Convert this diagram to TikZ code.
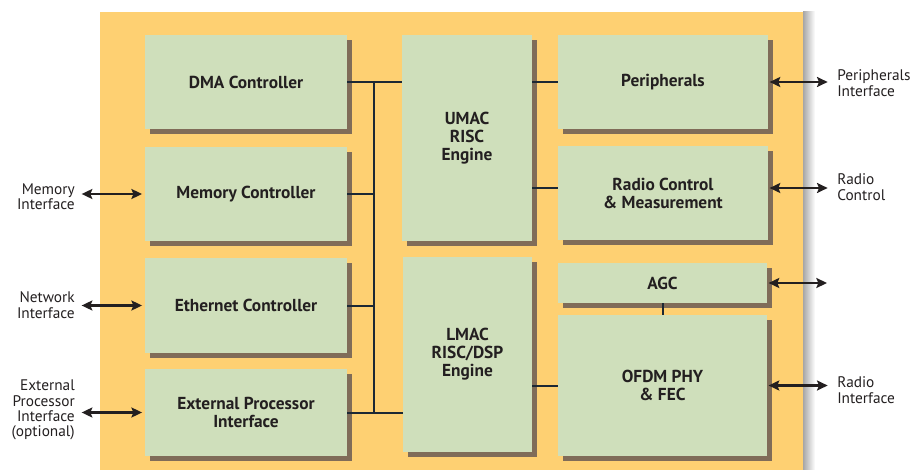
\documentclass[tikz,border=0pt]{standalone}
\usepackage{fontspec}
\setmainfont{PT Sans}
\usetikzlibrary{arrows.meta, positioning, shadows}
\definecolor{bgorange}{RGB}{254,208,114}
\definecolor{boxgreen}{RGB}{207,223,187}
\definecolor{boxshadow}{RGB}{128,108,88}
\definecolor{wirenavy}{RGB}{28,40,52}
\definecolor{txtdark}{RGB}{35,31,32}
\tikzset{
  unit/.style={rectangle, fill=boxgreen, align=center, inner sep=0pt,
    font=\fontsize{13}{13.5}\selectfont\bfseries, text=txtdark,
    general shadow={fill=boxshadow, shadow xshift=3.75pt, shadow yshift=-3.75pt}},
  boxsize/.style 2 args={minimum width=#1*0.75pt, minimum height=#2*0.75pt},
  portlabel/.style={font=\fontsize{11.5}{11.5}\selectfont, text=txtdark, inner sep=0pt},
  wire/.style={line width=1.5pt, draw=wirenavy},
  biarrow/.style={{Stealth[length=8pt,width=7.5pt,inset=1.5pt]}-{Stealth[length=8pt,width=7.5pt,inset=1.5pt]},
    line width=1.6pt, draw=txtdark}
}

\begin{document}
\begin{tikzpicture}[x=0.75pt, y=-0.75pt]
  \useasboundingbox (0,0) rectangle (912,470);

  % Chip background
  \fill[bgorange] (100,12) rectangle (803,470);
  \shade[left color=black!35, right color=white] (803,12) rectangle (815,470);

  % Left column
  \node[unit, boxsize={202}{94}] (dma) at (246,82) {DMA Controller};
  \node[unit, boxsize={202}{94}] (mem) at (246,194) {Memory Controller};
  \node[unit, boxsize={202}{95}] (eth) at (246,305.5) {Ethernet Controller};
  \node[unit, boxsize={202}{87}] (ext) at (246,412.5) {External Processor\\Interface};

  % Engines
  \node[unit, boxsize={130}{206}] (umac) at (467,138) {UMAC\\RISC\\Engine};
  \node[unit, boxsize={129}{195}] (lmac) at (467.5,354.5) {LMAC\\RISC/DSP\\Engine};

  % Right column
  \node[unit, boxsize={210}{94}] (per) at (663,82) {Peripherals};
  \node[unit, boxsize={210}{94}] (radio) at (663,193) {Radio Control\\\& Measurement};
  \node[unit, boxsize={209}{40}] (agc) at (662.5,283) {AGC};
  \node[unit, boxsize={209}{141}] (ofdm) at (662.5,385.5) {OFDM PHY\\\& FEC};

  % Bus
  \coordinate (bus) at (374,82);
  \draw[wire] (dma.east) -- (dma.east -| umac.west);
  \draw[wire] (bus) -- (bus |- ext.east);
  \draw[wire] (mem.east) -- (bus |- mem.east);
  \draw[wire] (eth.east) -- (bus |- eth.east);
  \draw[wire] (ext.east) -- (ext.east -| lmac.west);

  % Engine links
  \draw[wire] (per.west) -- (per.west -| umac.east);
  \draw[wire] ([yshift=3.75pt]radio.west) -- ([yshift=3.75pt]radio.west -| umac.east);
  \draw[wire] (ofdm.west) -- (ofdm.west -| lmac.east);
  \draw[wire] (agc.south) -- (ofdm.north);

  % Outside interfaces
  \node[portlabel, align=right, anchor=east] (memif) at (75,197) {Memory\\Interface};
  \node[portlabel, align=right, anchor=east] (netif) at (75,305) {Network\\Interface};
  \node[portlabel, align=right, anchor=east] (extif) at (75,410) {External\\Processor\\Interface\\(optional)};
  \node[portlabel, align=left, anchor=west] (perif) at (837,83) {Peripherals\\Interface};
  \node[portlabel, align=left, anchor=west] (rcif) at (837,187) {Radio\\Control};
  \node[portlabel, align=left, anchor=west] (radif) at (837,390) {Radio\\Interface};
  \coordinate (agcout) at (827,283);

  \draw[biarrow, shorten <=5pt, shorten >=2pt] (mem.west -| memif.east) -- (mem.west);
  \draw[biarrow, shorten <=5pt, shorten >=2pt] (eth.west -| netif.east) -- (eth.west);
  \draw[biarrow, shorten <=5pt, shorten >=2pt] (ext.west -| extif.east) -- (ext.west);
  \draw[biarrow, shorten <=1pt, shorten >=7pt] (per.east) -- (per.east -| perif.west);
  \draw[biarrow, shorten <=1pt, shorten >=7pt] ([yshift=3.75pt]radio.east) -- ([yshift=3.75pt]radio.east -| rcif.west);
  \draw[biarrow, shorten <=1pt] (agc.east) -- (agcout);
  \draw[biarrow, shorten <=1pt, shorten >=7pt] (ofdm.east) -- (ofdm.east -| radif.west);
\end{tikzpicture}
\end{document}
